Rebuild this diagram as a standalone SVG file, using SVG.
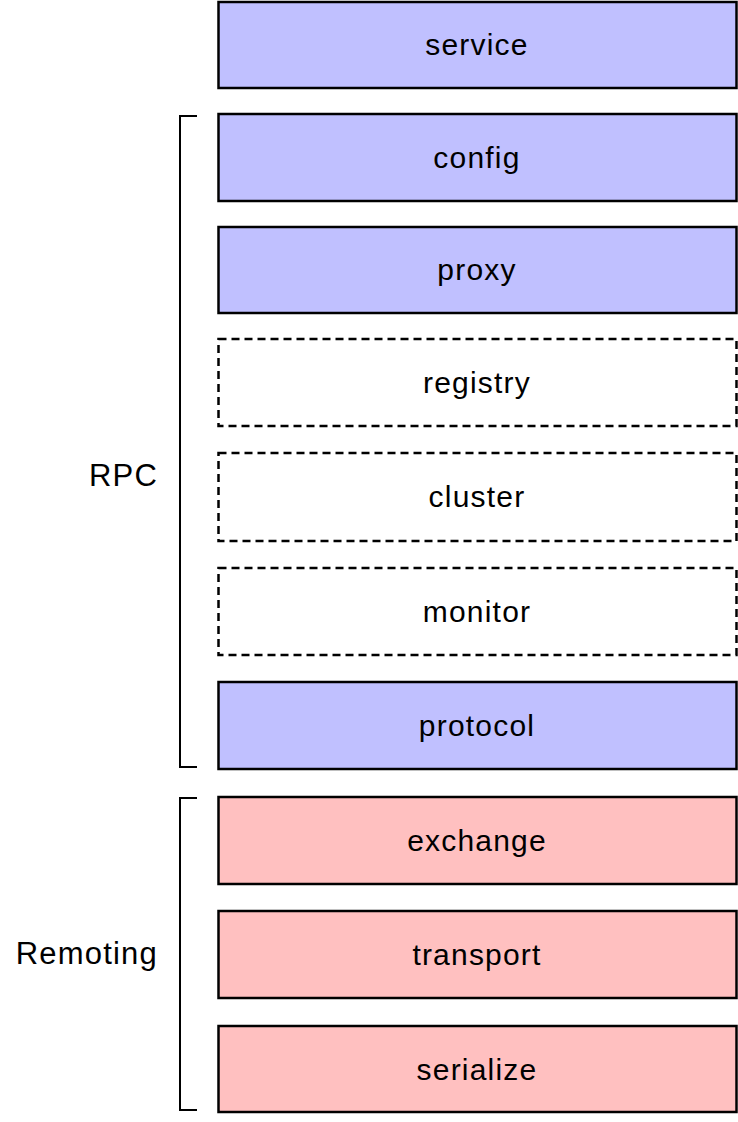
<svg xmlns="http://www.w3.org/2000/svg" width="738" height="1122" viewBox="0 0 738 1122">
<style>
.b{stroke:#000;stroke-width:2.5}
.rpc{fill:#c0c0ff}
.rem{fill:#ffc0c0}
.d{fill:#fff;stroke-dasharray:8,5}
text{font-family:"Liberation Sans",Arial,sans-serif;font-size:30px;letter-spacing:1.2px;fill:#000}
.c{text-anchor:middle}
.r{text-anchor:end;font-size:31px}
.br{fill:none;stroke:#000;stroke-width:2}
</style>
<g id="service"><rect class="b rpc" x="218.5" y="2" width="518" height="86"/><text class="c" x="477" y="55">service</text></g>
<g id="config"><rect class="b rpc" x="218.5" y="114" width="518" height="87"/><text class="c" x="477" y="168">config</text></g>
<g id="proxy"><rect class="b rpc" x="218.5" y="227" width="518" height="86"/><text class="c" x="477" y="280">proxy</text></g>
<g id="registry"><rect class="b d" x="218.5" y="339" width="518" height="87"/><text class="c" x="477" y="393">registry</text></g>
<g id="cluster"><rect class="b d" x="218.5" y="453" width="518" height="88"/><text class="c" x="477" y="507">cluster</text></g>
<g id="monitor"><rect class="b d" x="218.5" y="568" width="518" height="87"/><text class="c" x="477" y="622">monitor</text></g>
<g id="protocol"><rect class="b rpc" x="218.5" y="682" width="518" height="87"/><text class="c" x="477" y="736">protocol</text></g>
<g id="exchange"><rect class="b rem" x="218.5" y="797" width="518" height="87"/><text class="c" x="477" y="851">exchange</text></g>
<g id="transport"><rect class="b rem" x="218.5" y="911" width="518" height="87"/><text class="c" x="477" y="965">transport</text></g>
<g id="serialize"><rect class="b rem" x="218.5" y="1026" width="518" height="86"/><text class="c" x="477" y="1080">serialize</text></g>
<g id="connectors">
<path class="br" d="M197,116 H180 V767 H197"/>
<path class="br" d="M197,798 H180 V1110 H197"/>
</g>
<g id="rpc-label"><text class="r" x="158" y="486">RPC</text></g>
<g id="remoting-label"><text class="r" x="158" y="964">Remoting</text></g>
</svg>
